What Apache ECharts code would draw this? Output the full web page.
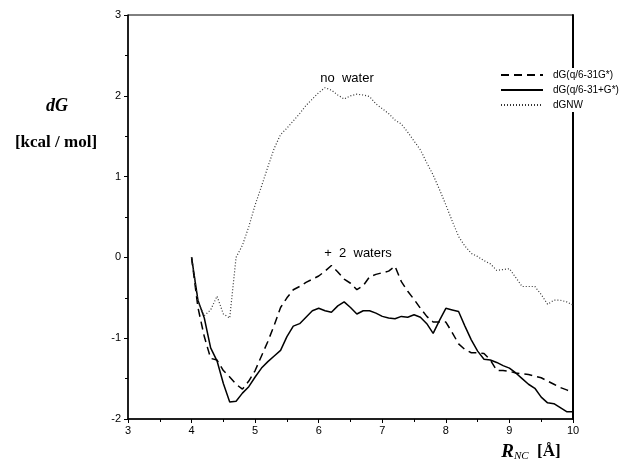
<!DOCTYPE html>
<html>
<head>
<meta charset="utf-8">
<script src="https://cdn.jsdelivr.net/npm/echarts@6/dist/echarts.min.js"></script>
<style>html,body{margin:0;padding:0;background:#fff}#c{width:631px;height:466px}</style>
</head>
<body>
<div id="c"></div>
<script>
const rNC = [4.0,4.1,4.2,4.3,4.4,4.5,4.6,4.7,4.8,4.9,5.0,5.1,5.2,5.3,5.4,5.5,5.6,5.7,5.8,5.9,6.0,6.1,6.2,6.3,6.4,6.5,6.6,6.7,6.8,6.9,7.0,7.1,7.2,7.3,7.4,7.5,7.6,7.7,7.8,7.9,8.0,8.1,8.2,8.3,8.4,8.5,8.6,8.7,8.8,8.9,9.0,9.1,9.2,9.3,9.4,9.5,9.6,9.7,9.8,9.9,10.0];
const dG631 = [0.0,-0.62,-0.98,-1.25,-1.27,-1.40,-1.48,-1.57,-1.63,-1.53,-1.40,-1.22,-1.04,-0.84,-0.62,-0.50,-0.40,-0.36,-0.31,-0.27,-0.23,-0.17,-0.10,-0.18,-0.27,-0.32,-0.40,-0.35,-0.24,-0.21,-0.19,-0.17,-0.11,-0.30,-0.42,-0.52,-0.63,-0.73,-0.80,-0.80,-0.80,-0.93,-1.07,-1.14,-1.18,-1.18,-1.19,-1.27,-1.40,-1.40,-1.41,-1.43,-1.44,-1.45,-1.47,-1.49,-1.53,-1.57,-1.61,-1.64,-1.67];
const dG631p = [0.0,-0.53,-0.75,-1.12,-1.28,-1.56,-1.79,-1.78,-1.68,-1.60,-1.48,-1.37,-1.29,-1.22,-1.15,-0.98,-0.85,-0.82,-0.74,-0.66,-0.63,-0.66,-0.68,-0.60,-0.55,-0.62,-0.70,-0.66,-0.66,-0.69,-0.73,-0.75,-0.76,-0.73,-0.74,-0.71,-0.74,-0.82,-0.94,-0.78,-0.63,-0.65,-0.67,-0.85,-1.02,-1.16,-1.26,-1.27,-1.30,-1.34,-1.37,-1.43,-1.50,-1.57,-1.62,-1.73,-1.80,-1.81,-1.86,-1.91,-1.91];
const dGNW = [0.0,-0.55,-0.72,-0.65,-0.48,-0.70,-0.75,0.0,0.15,0.38,0.65,0.88,1.12,1.35,1.52,1.60,1.69,1.78,1.88,1.96,2.04,2.10,2.07,2.01,1.96,2.00,2.02,2.01,1.99,1.90,1.84,1.78,1.70,1.65,1.55,1.44,1.33,1.17,1.02,0.84,0.65,0.45,0.26,0.14,0.05,0.01,-0.04,-0.08,-0.16,-0.15,-0.14,-0.25,-0.36,-0.36,-0.36,-0.46,-0.58,-0.53,-0.53,-0.55,-0.59];
const seriesNames = ['dG(q/6-31G*)','dG(q/6-31+G*)','dGNW'];
const xTicks = [3,4,5,6,7,8,9,10];
const yTicks = [-2,-1,0,1,2,3];

const pairs = ys => rNC.map((x,i)=>[x, ys[i]]);
const sans = 'Liberation Sans, Arial, sans-serif';
const serif = 'Liberation Serif, Times New Roman, serif';

const chart = echarts.init(document.getElementById('c'), null, {renderer:'canvas'});
chart.setOption({
  animation:false,
  backgroundColor:'#fff',
  grid:{left:128, right:58, top:15, bottom:47, show:true, borderColor:'#000', borderWidth:1},
  xAxis:{type:'value', min:xTicks[0], max:xTicks[xTicks.length-1], interval:1,
    axisLine:{show:true, onZero:false, lineStyle:{color:'#000', width:1.5}},
    axisTick:{show:true, length:4, lineStyle:{color:'#000'}},
    minorTick:{show:true, splitNumber:2, length:3, lineStyle:{color:'#000'}},
    splitLine:{show:false},
    axisLabel:{color:'#000', fontFamily:sans, fontSize:11, margin:6}},
  yAxis:[{type:'value', min:yTicks[0], max:yTicks[yTicks.length-1], interval:1,
    axisLine:{show:true, onZero:false, lineStyle:{color:'#000', width:1.5}},
    axisTick:{show:true, length:4, lineStyle:{color:'#000'}},
    minorTick:{show:true, splitNumber:2, length:3, lineStyle:{color:'#000'}},
    splitLine:{show:false},
    axisLabel:{color:'#000', fontFamily:sans, fontSize:11, margin:7}},
    {type:'value', position:'right', min:yTicks[0], max:yTicks[yTicks.length-1], interval:1,
    axisLine:{show:true, onZero:false, lineStyle:{color:'#000', width:2}},
    axisTick:{show:false}, axisLabel:{show:false}, splitLine:{show:false}}],
  legend:{orient:'vertical', left:496, top:68, itemWidth:42, itemHeight:10, itemGap:5,
    backgroundColor:'#fff', padding:[2,4,2,4],
    itemStyle:{opacity:0},
    textStyle:{fontFamily:sans, fontSize:10, color:'#000', padding:[0,0,0,5]},
    data:seriesNames},
  series:[
    {name:seriesNames[0], type:'line', data:pairs(dG631), symbol:'none', showSymbol:false,
     lineStyle:{color:'#000', width:1.5, type:[8,5]}, itemStyle:{color:'#000'}},
    {name:seriesNames[1], type:'line', data:pairs(dG631p), symbol:'none', showSymbol:false,
     lineStyle:{color:'#000', width:1.5, type:'solid'}, itemStyle:{color:'#000'}},
    {name:seriesNames[2], type:'line', data:pairs(dGNW), symbol:'none', showSymbol:false,
     lineStyle:{color:'#333', width:1.2, type:[1,2]}, itemStyle:{color:'#333'}}
  ],
  graphic:[
    {type:'text', x:347, y:78, style:{text:'no  water', font:'13px '+sans, fill:'#000', textAlign:'center', textVerticalAlign:'middle'}},
    {type:'text', x:358, y:253, style:{text:'+  2  waters', font:'13px '+sans, fill:'#000', textAlign:'center', textVerticalAlign:'middle'}},
    {type:'text', x:57, y:106, style:{text:'dG', font:'italic bold 18px '+serif, fill:'#000', textAlign:'center', textVerticalAlign:'middle'}},
    {type:'text', x:56, y:143, style:{text:'[kcal / mol]', font:'bold 17px '+serif, fill:'#000', textAlign:'center', textVerticalAlign:'middle'}},
    {type:'text', x:531, y:452, style:{
      text:'{r|R}{s|NC}{b|  [Å]}', textAlign:'center', textVerticalAlign:'middle',
      rich:{
        r:{font:'italic bold 19px '+serif, fill:'#000'},
        s:{font:'italic 11px '+serif, fill:'#000', verticalAlign:'bottom', padding:[8,0,0,0]},
        b:{font:'bold 17px '+serif, fill:'#000'}
      }}}
  ]
});
</script>
</body>
</html>
